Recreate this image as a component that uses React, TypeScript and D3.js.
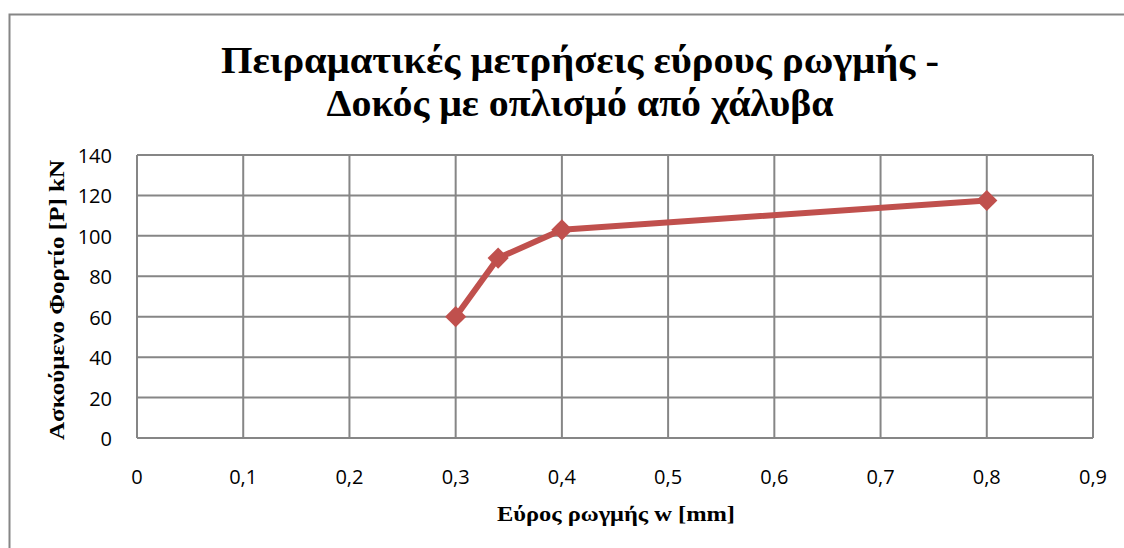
import React from "react";
import * as d3 from "d3";

const crackWidth = [0.3, 0.34, 0.4, 0.8];
const load = [60, 89, 103, 117.5];
const xTicks = [0, 0.1, 0.2, 0.3, 0.4, 0.5, 0.6, 0.7, 0.8, 0.9];
const yTicks = [0, 20, 40, 60, 80, 100, 120, 140];
const titleLines = ["Πειραματικές μετρήσεις  εύρους ρωγμής -", "Δοκός με οπλισμό από χάλυβα"];
const xTitle = "Εύρος ρωγμής  w [mm]";
const yTitle = "Ασκούμενο Φορτίο [P] kN";

export default function App() {
  const W = 1124, H = 548;
  const left = 137, right = 1093, top = 155, bottom = 438;
  const x = d3.scaleLinear().domain([0, 0.9]).range([left, right]);
  const y = d3.scaleLinear().domain([0, 140]).range([bottom, top]);
  const pts = crackWidth.map((w, i) => [x(w), y(load[i])] as [number, number]);
  const line = d3.line()(pts) || "";
  const fmt = (v: number) => String(Math.round(v * 10) / 10).replace(".", ",");
  const tickFont = "'Open Sans', Lato, sans-serif";
  const serif = "'Liberation Serif', 'DejaVu Serif', serif";
  const titleWidths = [718, 507];
  const tickStyle = { fontSize: "20px", fontFamily: tickFont };
  return (
    <svg width={W} height={H} style={{ position: "absolute", left: 0, top: 0, background: "#fff" }}>
      <rect x={9.5} y={14.5} width={W + 20} height={H + 20} fill="#fff" stroke="#868686" strokeWidth={2} />
      {titleLines.map((t, i) => (
        <text key={i} x={580} y={73 + i * 43} textAnchor="middle" fontFamily={serif} fontWeight="bold" fontSize={38}
          textLength={titleWidths[i]} lengthAdjust="spacingAndGlyphs" fill="#000">{t}</text>
      ))}
      {yTicks.map((v) => (
        <line key={"gy" + v} x1={left} x2={right} y1={y(v)} y2={y(v)} stroke="#868686" strokeWidth={2} />
      ))}
      {xTicks.map((v) => (
        <line key={"gx" + v} x1={x(v)} x2={x(v)} y1={top} y2={bottom} stroke="#868686" strokeWidth={2} />
      ))}
      {yTicks.map((v) => (
        <text key={"ty" + v} x={112} y={y(v) + 8} textAnchor="end" style={tickStyle} fill="#000">{v}</text>
      ))}
      {xTicks.map((v) => (
        <text key={"tx" + v} x={x(v)} y={484} textAnchor="middle" style={tickStyle} fill="#000">{fmt(v)}</text>
      ))}
      <text x={616} y={521} textAnchor="middle" fontFamily={serif} fontWeight="bold" fontSize={22}
        textLength={238} lengthAdjust="spacingAndGlyphs" fill="#000">{xTitle}</text>
      <text transform={`translate(64,300) rotate(-90)`} textAnchor="middle" fontFamily={serif} fontWeight="bold" fontSize={22}
        textLength={280} lengthAdjust="spacingAndGlyphs" fill="#000">{yTitle}</text>
      <path d={line} fill="none" stroke="#C0504D" strokeWidth={6} strokeLinejoin="round" />
      {pts.map(([px, py], i) => (
        <rect key={i} x={px - 7.5} y={py - 7.5} width={15} height={15} fill="#C0504D" transform={`rotate(45,${px},${py})`} />
      ))}
    </svg>
  );
}
